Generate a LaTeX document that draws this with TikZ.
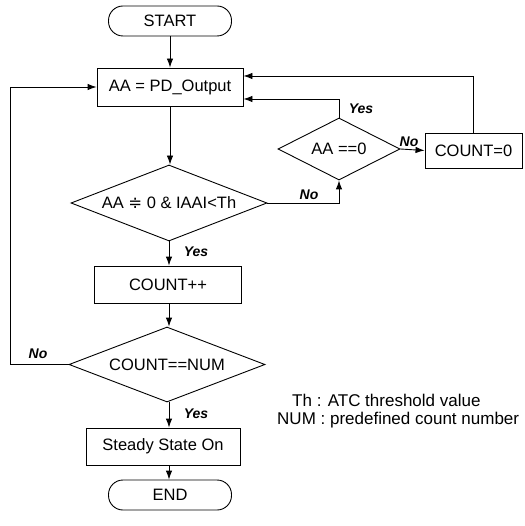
\documentclass[tikz,border=0pt]{standalone}
\usepackage{fontspec}
\setmainfont{Liberation Sans}
\newfontfamily\symfont{DejaVu Sans}
\usetikzlibrary{shapes.geometric,arrows.meta,calc}

\begin{document}
\begin{tikzpicture}[x=1pt,y=-1pt,
  every node/.style={font=\fontsize{16.5}{19}\selectfont},
  line/.style={draw=black,line width=0.9pt},
  arr/.style={line,-{Latex[length=9pt,width=6.5pt]}},
  terminal/.style={draw,line width=0.9pt,rectangle,rounded corners=14.5pt,inner sep=0,minimum width=123pt,minimum height=30pt},
  procbox/.style={draw,line width=0.9pt,rectangle,inner sep=0},
  decision/.style={draw,line width=0.9pt,diamond,inner sep=0},
  lbl/.style={font=\fontsize{14}{16}\selectfont\bfseries\itshape},
  note/.style={anchor=west,inner sep=0,font=\fontsize{17}{19}\selectfont}]

\useasboundingbox (0,0) rectangle (524,526);

% blocks of the flow
\node[terminal] (start) at (170,21) {START};
\node[procbox,minimum width=146pt,minimum height=38pt] (aa) at (170,87) {AA = PD\_Output};
\node[decision,aspect=2,minimum width=122pt,minimum height=62pt] (dz) at (339,149) {AA ==0};
\node[procbox,minimum width=97pt,minimum height=35pt] (c0) at (473.5,150.5) {COUNT=0};
\node[decision,aspect=2.58,minimum width=196pt,minimum height=76pt] (d1) at (169,203) {AA {\symfont ≑} 0 \& IAAI<Th};
\node[procbox,minimum width=147pt,minimum height=37pt] (cpp) at (168,284.5) {COUNT++};
\node[decision,aspect=2.6,minimum width=196pt,minimum height=75pt] (d2) at (167,364.5) {COUNT==NUM};
\node[procbox,minimum width=154pt,minimum height=37pt] (ss) at (163,446.5) {Steady State On};
\node[terminal] (end) at (170,495) {END};

% corner points of the loop-back lines
\coordinate (lb) at (10,0);
\coordinate (aaLow) at ([yshift=-12pt]aa.east);
\coordinate (aaHigh) at ([yshift=11pt]aa.east);

% main path
\draw[arr] (start.south) -- (start.south |- aa.north);
\draw[arr] (aa.south) -- (aa.south |- d1.north);
\draw[arr] (d1.south) -- (d1.south |- cpp.north);
\draw[arr] (d1.south |- cpp.south) -- (d1.south |- d2.north);
\draw[arr] (d1.south |- d2.south) -- (d1.south |- ss.north);
\draw[arr] (d1.south |- ss.south) -- (d1.south |- end.north);

% branches
\draw[arr] (d1.east) -- (dz.south |- d1.east) -- (dz.south);
\draw[arr] (dz.north) -- (dz.north |- aaLow) -- (aaLow);
\draw[arr] (dz.east) -- (c0.west);
\draw[arr] (c0.north) -- (c0.north |- aaHigh) -- (aaHigh);
\draw[arr] (d2.west) -- (lb |- d2.west) -- (lb |- aa.west) -- (aa.west);

% branch labels
\node[lbl] at (309,195) {No};
\node[lbl] at (196,252) {Yes};
\node[lbl] at (361,109) {Yes};
\node[lbl] at (409,142) {No};
\node[lbl] at (38,354) {No};
\node[lbl] at (196,414) {Yes};

% legend
\node[note] (n1) at (292,400) {Th : ATC threshold value};
\node[note] (n2) at (277,420) {NUM : predefined count number};
\end{tikzpicture}
\end{document}
